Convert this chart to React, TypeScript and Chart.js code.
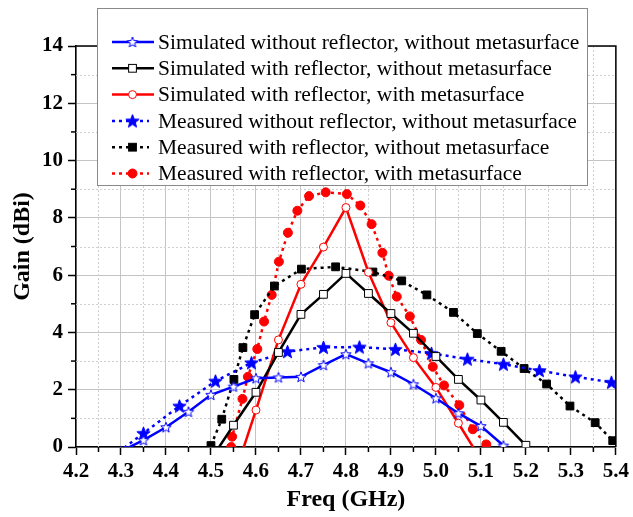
import React, { useEffect, useRef } from 'react';
import { Chart, registerables } from 'chart.js';

Chart.register(...registerables);

// ---------- data ----------
const simNoRefNoMetaX = [4.30, 4.35, 4.40, 4.45, 4.50, 4.55, 4.60, 4.65, 4.70, 4.75, 4.80, 4.85, 4.90, 4.95, 5.00, 5.05, 5.10, 5.15];
const simNoRefNoMetaY = [-0.15, 0.24, 0.69, 1.23, 1.82, 2.11, 2.40, 2.43, 2.45, 2.86, 3.24, 2.92, 2.61, 2.19, 1.70, 1.18, 0.73, 0.05];

const simRefNoMetaX = [4.50, 4.55, 4.60, 4.65, 4.70, 4.75, 4.80, 4.85, 4.90, 4.95, 5.00, 5.05, 5.10, 5.15, 5.20];
const simRefNoMetaY = [-0.43, 0.76, 1.91, 3.30, 4.63, 5.33, 6.06, 5.36, 4.66, 3.97, 3.16, 2.36, 1.64, 0.86, 0.06];

const simRefMetaX = [4.55, 4.60, 4.65, 4.70, 4.75, 4.80, 4.85, 4.90, 4.95, 5.00, 5.05, 5.10];
const simRefMetaY = [-1.10, 1.29, 3.74, 5.68, 6.98, 8.36, 6.10, 4.34, 3.12, 2.08, 0.83, -0.45];

const measNoRefNoMetaX = [4.27, 4.35, 4.43, 4.51, 4.59, 4.67, 4.75, 4.83, 4.91, 4.99, 5.07, 5.15, 5.23, 5.31, 5.39, 5.47];
const measNoRefNoMetaY = [-0.47, 0.48, 1.43, 2.30, 2.94, 3.33, 3.48, 3.49, 3.41, 3.27, 3.07, 2.89, 2.67, 2.45, 2.26, 2.05];

const measRefNoMetaX = [4.50, 4.524, 4.551, 4.571, 4.597, 4.641, 4.701, 4.777, 4.86, 4.924, 4.98, 5.039, 5.092, 5.145, 5.196, 5.246, 5.298, 5.354, 5.393];
const measRefNoMetaY = [0.05, 0.97, 2.36, 3.47, 4.62, 5.62, 6.21, 6.29, 6.11, 5.80, 5.31, 4.70, 3.96, 3.34, 2.74, 2.20, 1.43, 0.85, 0.22];

const measRefMetaX = [4.545, 4.547, 4.57, 4.582, 4.603, 4.618, 4.635, 4.651, 4.671, 4.692, 4.718, 4.755, 4.802, 4.832, 4.857, 4.881, 4.895, 4.913, 4.942, 4.967, 4.993, 5.018, 5.052, 5.082, 5.112];
const measRefMetaY = [0.0, 0.36, 1.68, 2.45, 3.42, 4.38, 5.31, 6.47, 7.48, 8.25, 8.76, 8.89, 8.83, 8.43, 7.78, 6.78, 5.98, 5.25, 4.56, 3.74, 2.80, 2.15, 1.46, 0.62, 0.09];

const seriesLabels = [
  'Simulated without reflector, without metasurface',
  'Simulated with reflector, without metasurface',
  'Simulated with reflector, with metasurface',
  'Measured without reflector, without metasurface',
  'Measured with reflector, without metasurface',
  'Measured with reflector, with metasurface',
];

const xMin = 4.2;
const xMax = 5.4;
const xStep = 0.1;
const yMin = 0;
const yMax = 14;
const yStep = 2;

const FONT = '"Liberation Serif", "Times New Roman", serif';

function makeStar(R: number, fill: string, stroke: string, lw: number): HTMLCanvasElement {
  const size = Math.ceil(2 * R + lw + 2);
  const c = document.createElement('canvas');
  c.width = size;
  c.height = size;
  const ctx = c.getContext('2d')!;
  const cx = size / 2;
  const cy = size / 2 + R * 0.08;
  const r = R * 0.42;
  ctx.beginPath();
  for (let i = 0; i < 10; i++) {
    const rad = i % 2 === 0 ? R : r;
    const a = -Math.PI / 2 + (i * Math.PI) / 5;
    const px = cx + rad * Math.cos(a);
    const py = cy + rad * Math.sin(a);
    if (i === 0) ctx.moveTo(px, py);
    else ctx.lineTo(px, py);
  }
  ctx.closePath();
  ctx.fillStyle = fill;
  ctx.fill();
  ctx.strokeStyle = stroke;
  ctx.lineWidth = lw;
  ctx.lineJoin = 'miter';
  ctx.stroke();
  return c;
}

function zip(xs: number[], ys: number[]) {
  return xs.map((x, i) => ({ x, y: ys[i] }));
}

function drawMarker(ctx: CanvasRenderingContext2D, ds: any, x: number, y: number) {
  const style = ds.pointStyle;
  ctx.save();
  ctx.setLineDash([]);
  if (style instanceof HTMLCanvasElement) {
    ctx.drawImage(style, x - style.width / 2, y - style.height / 2);
  } else if (style === 'rect') {
    const s = Math.SQRT1_2 * ds.pointRadius;
    ctx.fillStyle = ds.pointBackgroundColor;
    ctx.strokeStyle = ds.pointBorderColor;
    ctx.lineWidth = ds.pointBorderWidth;
    ctx.fillRect(x - s, y - s, 2 * s, 2 * s);
    ctx.strokeRect(x - s, y - s, 2 * s, 2 * s);
  } else {
    ctx.beginPath();
    ctx.arc(x, y, ds.pointRadius, 0, Math.PI * 2);
    ctx.fillStyle = ds.pointBackgroundColor;
    ctx.fill();
    ctx.strokeStyle = ds.pointBorderColor;
    ctx.lineWidth = ds.pointBorderWidth;
    ctx.stroke();
  }
  ctx.restore();
}

const minorGridPlugin = {
  id: 'minorGrid',
  beforeDatasetsDraw(chart: any) {
    const { ctx, chartArea: a, scales } = chart;
    const xs = scales.x;
    const ys = scales.y;
    ctx.save();
    ctx.strokeStyle = '#cfcfcf';
    ctx.lineWidth = 1;
    ctx.setLineDash([2, 2]);
    for (let v = xMin + xStep / 2; v < xMax; v += xStep) {
      const px = Math.round(xs.getPixelForValue(v)) + 0.5;
      ctx.beginPath();
      ctx.moveTo(px, a.top);
      ctx.lineTo(px, a.bottom);
      ctx.stroke();
    }
    for (let v = yMin + yStep / 2; v < yMax; v += yStep) {
      const py = Math.round(ys.getPixelForValue(v)) + 0.5;
      ctx.beginPath();
      ctx.moveTo(a.left, py);
      ctx.lineTo(a.right, py);
      ctx.stroke();
    }
    ctx.setLineDash([]);
    ctx.strokeStyle = '#000';
    ctx.lineWidth = 1.5;
    for (let v = xMin + xStep / 2; v < xMax; v += xStep) {
      const px = xs.getPixelForValue(v);
      ctx.beginPath();
      ctx.moveTo(px, a.bottom);
      ctx.lineTo(px, a.bottom + 5);
      ctx.stroke();
    }
    for (let v = yMin + yStep / 2; v < yMax; v += yStep) {
      const py = ys.getPixelForValue(v);
      ctx.beginPath();
      ctx.moveTo(a.left, py);
      ctx.lineTo(a.left - 5, py);
      ctx.stroke();
    }
    ctx.restore();
  },
  afterDatasetsDraw(chart: any) {
    const { ctx, chartArea: a } = chart;
    ctx.save();
    ctx.strokeStyle = '#000';
    ctx.lineWidth = 1.5;
    ctx.beginPath();
    ctx.moveTo(a.left, a.top);
    ctx.lineTo(a.right, a.top);
    ctx.lineTo(a.right, a.bottom);
    ctx.stroke();
    ctx.restore();
  },
};

const boxLegendPlugin = {
  id: 'boxLegend',
  afterDraw(chart: any) {
    const ctx: CanvasRenderingContext2D = chart.ctx;
    const bx = 97, by = 8, bw = 490, bh = 177;
    ctx.save();
    ctx.fillStyle = '#ffffff';
    ctx.fillRect(bx, by, bw, bh);
    ctx.strokeStyle = '#8a8a8a';
    ctx.lineWidth = 1;
    ctx.strokeRect(bx + 0.5, by + 0.5, bw, bh);
    chart.data.datasets.forEach((ds: any, i: number) => {
      const y = 42 + i * 26.3;
      const dashed = ds.borderDash && ds.borderDash.length;
      ctx.strokeStyle = ds.borderColor;
      ctx.lineWidth = ds.borderWidth;
      ctx.setLineDash(dashed ? ds.borderDash : []);
      ctx.beginPath();
      ctx.moveTo(112, y);
      ctx.lineTo(dashed ? 149 : 154, y);
      ctx.stroke();
      drawMarker(ctx, ds, 132.5, y);
      ctx.setLineDash([]);
      ctx.fillStyle = '#000';
      ctx.font = `21.5px ${FONT}`;
      ctx.textBaseline = 'middle';
      ctx.textAlign = 'left';
      ctx.fillText(ds.label, 158, y + 1);
    });
    ctx.restore();
  },
};

export default function App() {
  const ref = useRef<HTMLCanvasElement | null>(null);

  useEffect(() => {
    document.body.style.margin = '0';
    const canvas = ref.current;
    if (!canvas) return;

    const openStar = makeStar(5.5, '#ffffff', '#0000ff', 1);
    const filledStar = makeStar(7, '#0000ff', '#0000ff', 1);

    const solid = (color: string) => ({
      borderColor: color,
      backgroundColor: color,
      borderWidth: 2.5,
      borderDash: [] as number[],
      pointBackgroundColor: '#ffffff',
      pointBorderColor: color,
      pointBorderWidth: 1,
    });
    const dotted = (color: string) => ({
      borderColor: color,
      backgroundColor: color,
      borderWidth: 2.5,
      borderDash: [3, 4],
      pointBackgroundColor: color,
      pointBorderColor: color,
      pointBorderWidth: 1,
    });

    const chart = new Chart(canvas, {
      type: 'line',
      data: {
        datasets: [
          { label: seriesLabels[0], data: zip(simNoRefNoMetaX, simNoRefNoMetaY), ...solid('#0000ff'), pointStyle: openStar as any, pointRadius: 6 },
          { label: seriesLabels[1], data: zip(simRefNoMetaX, simRefNoMetaY), ...solid('#000000'), pointStyle: 'rect', pointRadius: 5.5 },
          { label: seriesLabels[2], data: zip(simRefMetaX, simRefMetaY), ...solid('#ff0000'), pointStyle: 'circle', pointRadius: 4 },
          { label: seriesLabels[3], data: zip(measNoRefNoMetaX, measNoRefNoMetaY), ...dotted('#0000ff'), pointStyle: filledStar as any, pointRadius: 7 },
          { label: seriesLabels[4], data: zip(measRefNoMetaX, measRefNoMetaY), ...dotted('#000000'), pointStyle: 'rect', pointRadius: 5.5 },
          { label: seriesLabels[5], data: zip(measRefMetaX, measRefMetaY), ...dotted('#ff0000'), pointStyle: 'circle', pointRadius: 4.5 },
        ] as any,
      },
      options: {
        animation: false,
        responsive: false,
        devicePixelRatio: 1,
        layout: { padding: { top: 46, right: 13, bottom: 0, left: 0 } },
        plugins: {
          legend: { display: false },
          tooltip: { enabled: false },
        },
        elements: { line: { tension: 0 } },
        scales: {
          x: {
            type: 'linear',
            min: xMin,
            max: xMax,
            afterFit: (s: any) => { s.height = 70; },
            ticks: {
              stepSize: xStep,
              color: '#000',
              padding: 4,
              maxRotation: 0,
              autoSkip: false,
              font: { family: FONT, size: 21, weight: 'bold' },
              callback: (v: any) => Number(v).toFixed(1),
            },
            grid: { color: '#c4c4c4', lineWidth: 1, tickColor: '#000', tickLength: 8, tickWidth: 1.5 },
            border: { color: '#000', width: 1.5 },
            title: {
              display: true,
              text: 'Freq (GHz)',
              color: '#000',
              font: { family: FONT, size: 24, weight: 'bold' },
              padding: { top: 0, bottom: 3 },
            },
          },
          y: {
            type: 'linear',
            min: yMin,
            max: yMax,
            afterFit: (s: any) => { s.width = 76; },
            ticks: {
              stepSize: yStep,
              color: '#000',
              padding: 5,
              font: { family: FONT, size: 21, weight: 'bold' },
            },
            grid: { color: '#c4c4c4', lineWidth: 1, tickColor: '#000', tickLength: 8, tickWidth: 1.5 },
            border: { color: '#000', width: 1.5 },
            title: {
              display: true,
              text: 'Gain (dBi)',
              color: '#000',
              font: { family: FONT, size: 24, weight: 'bold' },
              padding: { top: 8, bottom: 0 },
            },
          },
        },
      },
      plugins: [minorGridPlugin, boxLegendPlugin],
    });

    return () => chart.destroy();
  }, []);

  return (
    <div style={{ width: 633, height: 517 }}>
      <canvas ref={ref} width={633} height={517} />
    </div>
  );
}
